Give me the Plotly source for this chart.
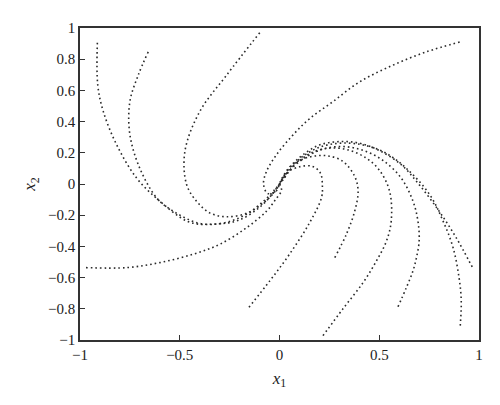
import plotly.graph_objects as go

# Trajectory waypoints (x1, x2)
t1_x = [-0.913, -0.911, -0.883, -0.816, -0.716, -0.60, -0.46, -0.36, -0.25, -0.16, -0.08, -0.03, 0.0]
t1_y = [0.906, 0.634, 0.464, 0.251, 0.038, -0.11, -0.24, -0.26, -0.24, -0.19, -0.12, -0.06, 0.0]

t2_x = [-0.658, -0.708, -0.75, -0.75, -0.70, -0.616, -0.55, -0.41, -0.30, -0.20, -0.10, -0.04, 0.0]
t2_y = [0.847, 0.698, 0.528, 0.317, 0.10, -0.089, -0.16, -0.25, -0.255, -0.23, -0.15, -0.07, 0.0]

t3_x = [-0.099, -0.265, -0.40, -0.474, -0.466, -0.416, -0.35, -0.265, -0.16, -0.08, -0.02, 0.0]
t3_y = [0.97, 0.698, 0.464, 0.21, -0.002, -0.11, -0.185, -0.21, -0.185, -0.11, -0.03, 0.0]

t4_x = [0.903, 0.736, 0.569, 0.402, 0.268, 0.152, 0.068, -0.015, -0.065, -0.08, -0.06, -0.02, 0.0]
t4_y = [0.91, 0.847, 0.762, 0.655, 0.528, 0.42, 0.315, 0.188, 0.081, 0.0, -0.06, -0.05, 0.0]

t5_x = [-0.97, -0.766, -0.60, -0.433, -0.30, -0.165, -0.065, -0.02, 0.01, 0.0]
t5_y = [-0.536, -0.536, -0.504, -0.45, -0.387, -0.28, -0.174, -0.10, -0.04, 0.0]

t6_x = [-0.153, -0.048, 0.05, 0.15, 0.21, 0.215, 0.205, 0.165, 0.10, 0.035, 0.0]
t6_y = [-0.79, -0.62, -0.45, -0.25, -0.09, -0.015, 0.07, 0.113, 0.11, 0.07, 0.0]

t7_x = [0.277, 0.335, 0.377, 0.394, 0.377, 0.318, 0.245, 0.18, 0.118, 0.052, 0.01, 0.0]
t7_y = [-0.472, -0.323, -0.174, -0.047, 0.049, 0.145, 0.18, 0.18, 0.16, 0.11, 0.03, 0.0]

t8_x = [0.218, 0.318, 0.419, 0.486, 0.536, 0.56, 0.552, 0.50, 0.43, 0.34, 0.25, 0.16, 0.09, 0.04, 0.0]
t8_y = [-0.972, -0.80, -0.632, -0.493, -0.366, -0.238, -0.047, 0.09, 0.17, 0.22, 0.23, 0.20, 0.14, 0.07, 0.0]

t9_x = [0.594, 0.636, 0.669, 0.686, 0.70, 0.694, 0.669, 0.61, 0.52, 0.42, 0.32, 0.22, 0.13, 0.06, 0.02, 0.0]
t9_y = [-0.787, -0.664, -0.557, -0.475, -0.366, -0.238, -0.11, 0.038, 0.15, 0.215, 0.24, 0.225, 0.17, 0.10, 0.03, 0.0]

t10_x = [0.906, 0.911, 0.90, 0.87, 0.82, 0.753, 0.636, 0.53, 0.42, 0.31, 0.21, 0.12, 0.06, 0.02, 0.0]
t10_y = [-0.908, -0.749, -0.60, -0.408, -0.238, -0.068, 0.10, 0.20, 0.25, 0.262, 0.24, 0.18, 0.11, 0.04, 0.0]

t11_x = [0.966, 0.886, 0.80, 0.70, 0.61, 0.50, 0.40, 0.30, 0.20, 0.12, 0.06, 0.02, 0.0]
t11_y = [-0.532, -0.345, -0.174, -0.004, 0.124, 0.215, 0.262, 0.272, 0.25, 0.19, 0.12, 0.05, 0.0]

trajectories = [(t1_x, t1_y), (t2_x, t2_y), (t3_x, t3_y), (t4_x, t4_y), (t5_x, t5_y),
                (t6_x, t6_y), (t7_x, t7_y), (t8_x, t8_y), (t9_x, t9_y), (t10_x, t10_y),
                (t11_x, t11_y)]

x_ticks = [-1, -0.5, 0, 0.5, 1]
x_tick_labels = ["\u22121", "\u22120.5", "0", "0.5", "1"]
y_ticks = [-1, -0.8, -0.6, -0.4, -0.2, 0, 0.2, 0.4, 0.6, 0.8, 1]
y_tick_labels = ["\u22121", "\u22120.8", "\u22120.6", "\u22120.4", "\u22120.2", "0",
                 "0.2", "0.4", "0.6", "0.8", "1"]

fig = go.Figure()
for tx, ty in trajectories:
    fig.add_trace(go.Scatter(
        x=tx, y=ty, mode="lines",
        line=dict(color="#2a2a2a", width=1.6, dash="1.6px,3px", shape="spline", smoothing=1.0),
        showlegend=False, hoverinfo="skip"))

axis_common = dict(
    showline=True, linecolor="#333333", linewidth=1.5, mirror=True,
    ticks="inside", ticklen=5, tickwidth=1.2, tickcolor="#333333",
    showgrid=False, zeroline=False,
    tickfont=dict(family="Liberation Serif", size=15, color="#222222"),
)

fig.update_layout(
    width=500, height=405,
    margin=dict(l=72, r=29, t=18, b=73),
    paper_bgcolor="white", plot_bgcolor="white",
    xaxis=dict(range=[-1, 1], tickvals=x_ticks, ticktext=x_tick_labels,
               title=dict(text="<i>x</i><sub>1</sub>", standoff=10,
                          font=dict(family="Liberation Serif", size=17, color="#222222")),
               **axis_common),
    yaxis=dict(range=[-1, 1], tickvals=y_ticks, ticktext=y_tick_labels,
               title=dict(text="<i>x</i><sub>2</sub>", standoff=8,
                          font=dict(family="Liberation Serif", size=17, color="#222222")),
               **axis_common),
)

fig.write_html("out.html")
